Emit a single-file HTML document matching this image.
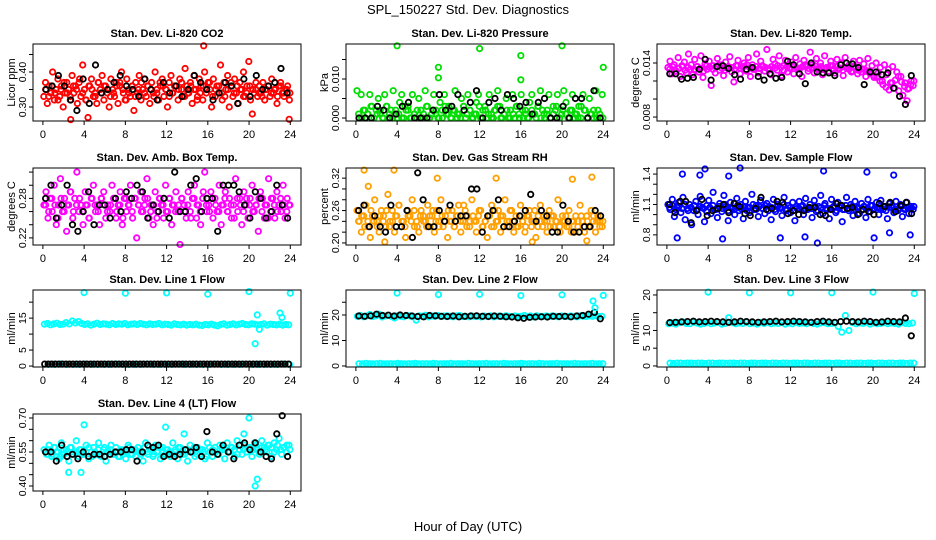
<!DOCTYPE html>
<html><head><meta charset="utf-8"><style>
html,body{margin:0;padding:0;background:#fff}
svg{display:block;font-family:"Liberation Sans",sans-serif}
</style></head><body>
<svg id="chart" width="936" height="540" viewBox="0 0 936 540" xmlns="http://www.w3.org/2000/svg">
<text x="468" y="14" text-anchor="middle" font-size="13">SPL_150227  Std. Dev. Diagnostics</text>
<text x="468" y="531" text-anchor="middle" font-size="13">Hour of Day (UTC)</text>
</svg>
<script>
const xTicks=[0,4,8,12,16,20,24];
const co2Main=[0.33,0.37,0.31,0.36,0.34,0.40,0.32,0.35,0.38,0.33,0.36,0.30,0.34,0.37,0.35,0.32,0.39,0.34,0.36,0.31,0.37,0.33,0.42,0.35,0.32,0.27,0.36,0.38,0.33,0.34,0.31,0.37,0.35,0.39,0.32,0.36,0.34,0.30,0.38,0.35,0.33,0.37,0.31,0.36,0.40,0.34,0.32,0.38,0.35,0.33,0.36,0.29,0.37,0.34,0.39,0.32,0.35,0.38,0.33,0.36,0.31,0.37,0.34,0.40,0.35,0.32,0.36,0.38,0.33,0.35,0.30,0.37,0.39,0.34,0.36,0.36,0.32,0.38,0.35,0.33,0.41,0.36,0.34,0.37,0.31,0.39,0.35,0.33,0.38,0.36,0.32,0.40,0.34,0.37,0.35,0.30,0.38,0.33,0.36,0.34,0.42,0.32,0.37,0.35,0.39,0.30,0.36,0.33,0.38,0.34,0.31,0.37,0.35,0.40,0.33,0.36,0.43,0.32,0.28,0.34,0.35,0.33,0.36,0.34,0.37,0.32,0.35,0.36,0.33,0.38,0.34,0.35,0.31,0.36,0.37,0.34,0.33,0.35,0.36,0.32];
const co2Extra=[0.35,0.33,0.36,0.34,0.32,0.35,0.37,0.34,0.33,0.36,0.35,0.38,0.34,0.32,0.36,0.35,0.33,0.37,0.34,0.36,0.35,0.33,0.34,0.36,0.37,0.35,0.32,0.34,0.36,0.33,0.35,0.37,0.34,0.36,0.35,0.33,0.34,0.37,0.36,0.35,0.33,0.34,0.36,0.35,0.37,0.33,0.34,0.36,0.35,0.32,0.34,0.36,0.35,0.37,0.33,0.35,0.36,0.34,0.33,0.35,0.37,0.34,0.36,0.35,0.33,0.34,0.36,0.35,0.37,0.34,0.33,0.35,0.36,0.34,0.35,0.33,0.36,0.34,0.35,0.34];
const co2Black=[0.35,0.36,0.39,0.36,0.32,0.29,0.38,0.31,0.42,0.34,0.35,0.37,0.39,0.36,0.35,0.33,0.38,0.35,0.32,0.37,0.34,0.36,0.33,0.35,0.39,0.37,0.35,0.32,0.34,0.37,0.36,0.31,0.38,0.33,0.39,0.35,0.36,0.37,0.41,0.34];
const co2OutHours=[15.6,2.7,23.9];
const co2OutVals=[0.475,0.264,0.265];
const presMain=[0.007,0.000,0.006,0.002,0.000,0.001,0.006,0.003,0.000,0.002,0.005,0.001,0.000,0.006,0.003,0.000,0.002,0.007,0.001,0.000,0.004,0.006,0.000,0.002,0.003,0.000,0.006,0.001,0.000,0.005,0.002,0.000,0.007,0.003,0.000,0.001,0.006,0.002,0.000,0.004,0.000,0.006,0.001,0.003,0.000,0.002,0.007,0.000,0.001,0.005,0.003,0.000,0.006,0.002,0.000,0.001,0.004,0.006,0.000,0.002,0.003,0.000,0.006,0.001,0.000,0.002,0.007,0.003,0.000,0.001,0.005,0.000,0.002,0.006,0.000,0.003,0.001,0.006,0.000,0.002,0.000,0.004,0.006,0.001,0.000,0.003,0.007,0.002,0.000,0.001,0.006,0.000,0.003,0.002,0.006,0.000,0.001,0.007,0.004,0.000,0.002,0.006,0.000,0.001,0.003,0.000,0.006,0.002,0.000,0.005,0.001,0.000,0.007,0.002,0.000,0.006];
const presExtra=[0.001,0.000,0.002,0.001,0.003,0.000,0.001,0.002,0.000,0.003,0.001,0.000,0.002,0.001,0.000,0.003,0.002,0.000,0.001,0.002,0.000,0.001,0.003,0.000,0.002,0.001,0.000,0.002,0.003,0.001,0.000,0.002,0.001,0.000,0.003,0.001,0.002,0.000,0.001,0.003,0.000,0.002,0.001,0.000,0.002,0.003,0.000,0.001,0.002,0.000,0.001,0.003,0.000,0.002,0.001,0.000,0.002,0.001,0.003,0.000,0.001,0.002,0.000,0.001,0.003,0.000,0.002,0.001,0.000,0.002,0.001,0.000,0.003,0.002,0.000,0.001,0.002,0.000,0.001,0.000];
const presBlack=[0.000,0.000,0.000,0.003,0.002,0.000,0.001,0.003,0.004,0.000,0.000,0.000,0.002,0.006,0.002,0.003,0.006,0.002,0.004,0.007,0.000,0.004,0.005,0.002,0.006,0.005,0.003,0.004,0.001,0.004,0.005,0.000,0.000,0.003,0.000,0.005,0.005,0.000,0.007,0.000];
const presOutHours=[4.0,8.0,8.0,12.0,16.0,16.0,20.0,24.0];
const presOutVals=[0.0185,0.0130,0.0103,0.0178,0.0160,0.0098,0.0185,0.0130];
const tempMain=[0.0135,0.0142,0.0128,0.0138,0.0131,0.0146,0.0125,0.0136,0.0141,0.0129,0.0150,0.0133,0.0127,0.0144,0.0136,0.0130,0.0148,0.0124,0.0139,0.0133,0.0142,0.0115,0.0137,0.0129,0.0145,0.0132,0.0138,0.0126,0.0141,0.0134,0.0147,0.0130,0.0119,0.0137,0.0143,0.0128,0.0136,0.0140,0.0131,0.0146,0.0125,0.0138,0.0133,0.0150,0.0129,0.0142,0.0136,0.0131,0.0155,0.0134,0.0127,0.0144,0.0139,0.0132,0.0148,0.0126,0.0137,0.0143,0.0130,0.0135,0.0141,0.0128,0.0146,0.0134,0.0139,0.0125,0.0143,0.0136,0.0131,0.0152,0.0138,0.0129,0.0145,0.0134,0.0140,0.0127,0.0148,0.0135,0.0131,0.0142,0.0137,0.0129,0.0144,0.0133,0.0140,0.0126,0.0146,0.0134,0.0138,0.0130,0.0142,0.0136,0.0128,0.0143,0.0133,0.0139,0.0125,0.0145,0.0131,0.0137,0.0124,0.0140,0.0129,0.0135,0.0120,0.0138,0.0127,0.0133,0.0118,0.0136,0.0112,0.0130,0.0109,0.0125,0.0104,0.0118,0.0098,0.0112,0.0120,0.0115];
const tempExtra=[0.0133,0.0136,0.0131,0.0134,0.0137,0.0132,0.0135,0.0138,0.0133,0.0136,0.0134,0.0131,0.0137,0.0135,0.0133,0.0136,0.0138,0.0134,0.0132,0.0136,0.0135,0.0133,0.0137,0.0134,0.0136,0.0138,0.0135,0.0133,0.0136,0.0134,0.0137,0.0135,0.0133,0.0136,0.0134,0.0137,0.0135,0.0132,0.0136,0.0134,0.0137,0.0135,0.0133,0.0136,0.0138,0.0134,0.0135,0.0137,0.0133,0.0136,0.0134,0.0135,0.0137,0.0133,0.0136,0.0134,0.0132,0.0135,0.0133,0.0131,0.0134,0.0132,0.0130,0.0133,0.0131,0.0128,0.0126,0.0124,0.0120,0.0116,0.0113,0.0110,0.0118,0.0121,0.0125,0.0119,0.0114,0.0111,0.0116,0.0120];
const tempBlack=[0.0128,0.0128,0.0122,0.0123,0.0124,0.0133,0.0144,0.0121,0.0136,0.0137,0.0134,0.0127,0.0122,0.0133,0.0135,0.0125,0.0121,0.0128,0.0123,0.0124,0.0142,0.0138,0.0128,0.0117,0.0140,0.0130,0.0129,0.0129,0.0126,0.0138,0.0140,0.0139,0.0135,0.0116,0.0130,0.0130,0.0127,0.0129,0.0112,0.0103,0.0094,0.0126];
const ambMain=[0.27,0.29,0.25,0.28,0.26,0.30,0.24,0.27,0.31,0.26,0.28,0.23,0.27,0.29,0.25,0.28,0.32,0.26,0.27,0.24,0.29,0.27,0.25,0.28,0.30,0.26,0.27,0.24,0.28,0.29,0.25,0.27,0.26,0.30,0.28,0.25,0.27,0.29,0.24,0.28,0.26,0.27,0.30,0.25,0.28,0.22,0.27,0.29,0.26,0.28,0.31,0.25,0.27,0.24,0.29,0.26,0.28,0.27,0.25,0.30,0.26,0.28,0.24,0.27,0.29,0.26,0.21,0.28,0.27,0.25,0.29,0.26,0.28,0.30,0.25,0.27,0.24,0.28,0.32,0.26,0.27,0.29,0.25,0.28,0.26,0.30,0.24,0.27,0.29,0.26,0.28,0.25,0.27,0.31,0.26,0.28,0.24,0.29,0.27,0.25,0.28,0.30,0.26,0.27,0.23,0.29,0.28,0.25,0.27,0.31,0.26,0.28,0.25,0.29,0.27,0.26,0.30,0.25,0.28,0.27];
const ambExtra=[0.27,0.26,0.28,0.27,0.25,0.28,0.26,0.27,0.29,0.26,0.27,0.28,0.26,0.27,0.25,0.28,0.27,0.26,0.28,0.27,0.26,0.27,0.28,0.26,0.27,0.25,0.28,0.27,0.26,0.28,0.27,0.26,0.27,0.28,0.26,0.27,0.25,0.28,0.27,0.26,0.28,0.27,0.26,0.27,0.28,0.26,0.27,0.25,0.28,0.27,0.26,0.29,0.27,0.26,0.28,0.27,0.26,0.27,0.28,0.26,0.27,0.25,0.28,0.27,0.26,0.28,0.27,0.26,0.27,0.28,0.26,0.27,0.25,0.28,0.27,0.26,0.28,0.27,0.26,0.27];
const ambBlack=[0.28,0.30,0.25,0.27,0.30,0.24,0.23,0.26,0.29,0.24,0.27,0.27,0.25,0.28,0.26,0.29,0.28,0.30,0.29,0.25,0.27,0.26,0.28,0.25,0.32,0.26,0.26,0.30,0.31,0.26,0.28,0.28,0.23,0.30,0.30,0.30,0.29,0.27,0.25,0.29,0.28,0.25,0.26,0.30,0.27,0.25];
const rhMain=[0.26,0.24,0.22,0.25,0.27,0.23,0.21,0.25,0.28,0.24,0.22,0.26,0.25,0.23,0.29,0.24,0.26,0.22,0.25,0.27,0.23,0.24,0.21,0.26,0.25,0.28,0.23,0.24,0.22,0.26,0.25,0.24,0.27,0.23,0.25,0.22,0.26,0.24,0.28,0.23,0.25,0.21,0.24,0.26,0.23,0.25,0.27,0.22,0.24,0.26,0.25,0.23,0.28,0.24,0.22,0.25,0.26,0.23,0.24,0.21,0.25,0.27,0.23,0.24,0.26,0.22,0.25,0.28,0.23,0.24,0.26,0.22,0.25,0.23,0.27,0.24,0.22,0.25,0.26,0.23,0.24,0.21,0.25,0.27,0.23,0.24,0.22,0.26,0.25,0.23,0.24,0.28,0.22,0.25,0.24,0.23,0.26,0.22,0.24,0.25,0.23,0.27,0.24,0.22,0.25,0.23,0.26,0.24,0.22,0.25,0.24,0.23];
const rhExtra=[0.24,0.25,0.23,0.24,0.26,0.24,0.23,0.25,0.24,0.26,0.23,0.24,0.25,0.27,0.24,0.23,0.25,0.24,0.26,0.23,0.25,0.24,0.23,0.25,0.26,0.24,0.23,0.25,0.24,0.26,0.24,0.23,0.25,0.24,0.27,0.23,0.24,0.25,0.24,0.26,0.23,0.24,0.25,0.23,0.26,0.24,0.25,0.23,0.24,0.26,0.24,0.23,0.25,0.24,0.23,0.25,0.24,0.26,0.23,0.24,0.25,0.24,0.23,0.25,0.24,0.23,0.24,0.25,0.23,0.24,0.22,0.24,0.25,0.23,0.24,0.23,0.25,0.24,0.23,0.24];
const rhBlack=[0.26,0.27,0.23,0.25,0.23,0.22,0.27,0.23,0.23,0.26,0.21,0.33,0.28,0.23,0.23,0.26,0.24,0.27,0.24,0.25,0.25,0.30,0.30,0.22,0.25,0.26,0.28,0.23,0.23,0.24,0.25,0.26,0.29,0.24,0.26,0.25,0.22,0.22,0.27,0.24,0.22,0.22,0.23,0.23,0.26,0.25];
const rhOutHours=[0.8,3.7,1.2,7.9,13.6,21.0,22.9,2.8,17.1,22.4];
const rhOutVals=[0.335,0.335,0.305,0.320,0.320,0.318,0.322,0.202,0.202,0.204];
const flowMain=[1.10,1.05,1.15,0.98,1.08,1.12,1.02,1.17,0.95,1.06,1.10,0.90,1.04,1.13,1.00,1.18,1.07,0.93,1.09,1.14,1.01,1.22,1.05,0.97,1.11,1.03,1.19,1.08,0.94,1.12,1.06,1.00,1.16,1.04,1.10,0.96,1.13,1.07,1.02,1.20,1.05,1.09,0.98,1.14,1.06,1.01,1.11,1.08,0.95,1.15,1.03,1.10,1.07,0.99,1.17,1.04,1.09,1.02,1.12,0.94,1.06,1.13,1.08,1.00,1.16,1.05,1.10,0.97,1.14,1.03,1.08,1.19,1.01,1.11,1.06,0.96,1.15,1.07,1.02,1.12,1.09,0.93,1.05,1.17,1.04,1.10,0.99,1.13,1.06,1.01,1.11,1.08,0.97,1.15,1.03,1.09,1.06,1.12,1.00,1.14,1.05,1.08,0.96,1.11,1.07,1.02,1.13,1.04,1.10,0.98,1.06,1.12,1.01,1.08,1.05];
const flowExtra=[1.07,1.09,1.05,1.08,1.06,1.10,1.04,1.07,1.09,1.05,1.08,1.06,1.03,1.07,1.09,1.05,1.08,1.06,1.10,1.04,1.07,1.05,1.09,1.06,1.08,1.04,1.07,1.10,1.05,1.08,1.06,1.09,1.04,1.07,1.05,1.08,1.06,1.10,1.05,1.07,1.04,1.08,1.06,1.09,1.05,1.07,1.06,1.08,1.04,1.07,1.09,1.05,1.06,1.08,1.04,1.07,1.05,1.09,1.06,1.08,1.05,1.07,1.04,1.08,1.06,1.09,1.05,1.07,1.06,1.08,1.04,1.07,1.09,1.05,1.06,1.08,1.05,1.07,1.06,1.08];
const flowBlack=[1.10,1.02,1.13,1.13,0.92,1.04,1.15,0.99,1.04,1.06,1.10,1.02,1.11,1.08,1.01,0.99,1.06,1.17,1.05,1.06,1.13,1.12,1.01,1.04,1.00,1.04,1.07,1.07,1.00,0.99,1.05,1.11,1.09,1.06,1.07,1.00,1.05,1.03,1.00,1.11,1.08,1.12,1.03,1.09,1.12,1.01];
const flowOutHours=[1.0,1.5,3.2,3.7,7.1,6.0,5.4,15.2,19.4,22.0,11.0,13.4,14.6,20.1,21.6,23.6];
const flowOutVals=[0.77,1.40,1.39,1.45,1.46,1.38,0.76,1.43,1.42,1.39,0.77,0.78,0.72,0.77,0.82,0.80];
const l1Band=[13.1,13.3,12.9,13.2,13.4,13.0,13.1,13.6,13.2,14.1,13.5,13.9,13.3,13.0,13.2,12.8,13.1,13.4,13.0,13.2,13.1,12.9,13.3,13.0,13.2,13.1,13.3,12.9,13.1,13.2,13.0,13.3,13.1,12.9,13.2,13.0,13.1,13.3,12.9,13.1,13.0,12.8,13.2,13.0,12.9,13.1,12.8,13.0,12.9,13.1,12.8,12.7,13.0,12.9,13.1,12.8,12.6,13.0,13.2,12.8,13.0,13.2,12.9,13.1,13.3,13.0,12.9,13.2,13.1,12.9,13.0,13.2,12.8,13.1,13.0,12.9,13.1,12.8,13.0,12.9];
const l1Zero=[0.5,0.5,0.6,0.5,0.5,0.5,0.6,0.5,0.5,0.5,0.5,0.6,0.5,0.5,0.5,0.5,0.6,0.5,0.5,0.5,0.5,0.6,0.5,0.5,0.5,0.5,0.5,0.6,0.5,0.5,0.5,0.5,0.6,0.5,0.5,0.5,0.5,0.5,0.6,0.5];
const l1Black=[0.6,0.6,0.6,0.6,0.6,0.6,0.6,0.6,0.6,0.6,0.6,0.6,0.6,0.6,0.6,0.6,0.6,0.6,0.6,0.6,0.6,0.6,0.6,0.6,0.6,0.6,0.6,0.6,0.6,0.6,0.6,0.6,0.6,0.6,0.6,0.6,0.6,0.6,0.6,0.6,0.6,0.6,0.6,0.6,0.6,0.6,0.6,0.6,0.6,0.6,0.6,0.6,0.6,0.6,0.6,0.6,0.6,0.6,0.6,0.6,0.6,0.6,0.6,0.6,0.6,0.6,0.6,0.6,0.6,0.6];
const l1OutHours=[4.0,8.0,12.0,16.0,20.0,24.0,20.6,20.8,21.0,23.0,23.2];
const l1OutVals=[23.0,22.8,22.9,22.5,23.3,22.8,7.0,16.0,11.5,16.6,15.2];
const l2Band=[19.5,19.8,19.3,19.6,20.2,19.4,19.7,20.3,19.2,19.6,19.9,19.4,18.8,19.7,19.5,19.3,19.8,19.6,19.4,18.0,19.7,19.5,19.9,19.3,19.6,19.5,19.8,19.4,19.6,19.7,19.5,19.3,19.6,19.8,19.4,19.5,19.3,19.6,19.4,19.5,19.2,19.6,19.4,19.7,19.3,19.5,19.6,19.4,19.7,19.5,19.3,19.6,19.4,19.5,19.8,19.3,19.6,19.2,19.7,19.4,19.5,19.6,19.4,19.7,19.5,19.3,19.6,19.5,19.4,19.6,19.5,19.3,19.7,19.5,19.4,19.6,19.5,19.7,19.4,19.5];
const l2Zero=[0.9,0.8,1.0,0.9,0.8,0.9,1.0,0.8,0.9,0.9,0.8,1.0,0.9,0.8,0.9,0.9,1.0,0.8,0.9,0.9,0.8,1.0,0.9,0.8,0.9,0.9,1.0,0.8,0.9,0.9,0.8,1.0,0.9,0.8,0.9,0.9,1.0,0.8,0.9,0.9,0.8,1.0,0.9,0.8,0.9,0.9,1.0,0.8,0.9,0.9,0.8,1.0,0.9,0.8,0.9,0.9,1.0,0.8,0.9,0.9,0.8,1.0,0.9,0.8,0.9,0.9,1.0,0.8,0.9,0.9];
const l2Black=[19.6,19.5,19.7,20.3,19.8,19.9,19.6,20.0,19.8,19.6,19.4,19.3,19.8,19.7,19.5,19.4,19.6,19.3,19.5,19.6,19.7,19.5,19.4,19.6,19.5,19.3,19.2,18.9,18.7,19.1,19.2,19.3,19.2,19.5,19.4,19.5,19.3,19.6,19.8,20.3,21.0,18.5];
const l2OutHours=[4.0,8.0,12.0,16.0,20.0,23.0,23.2,24.0];
const l2OutVals=[28.6,28.0,28.1,27.6,27.9,25.5,22.8,27.7];
const l3Band=[11.9,12.1,11.8,12.2,12.4,12.0,11.9,12.3,12.1,11.8,12.0,12.2,11.9,12.1,12.3,11.8,12.0,13.6,12.2,11.9,12.1,12.0,12.3,11.9,12.1,11.8,12.2,12.0,12.3,11.9,12.1,12.0,12.2,11.8,12.1,11.9,12.3,12.0,12.1,11.9,12.2,12.0,11.8,12.1,12.2,11.9,12.0,12.1,11.1,9.5,14.2,10.0,12.2,11.9,12.1,12.0,12.3,11.8,12.1,11.9,12.0,12.2,11.9,12.1,12.0,11.8,12.2,12.0,11.9,12.1];
const l3Zero=[0.8,0.7,0.8,0.8,0.7,0.8,0.8,0.7,0.8,0.8,0.7,0.8,0.8,0.7,0.8,0.8,0.7,0.8,0.8,0.7,0.8,0.8,0.7,0.8,0.8,0.7,0.8,0.8,0.7,0.8,0.8,0.7,0.8,0.8,0.7,0.8,0.8,0.7,0.8,0.8,0.7,0.8,0.8,0.7,0.8,0.8,0.7,0.8,0.8,0.7,0.8,0.8,0.7,0.8,0.8,0.7,0.8,0.8,0.7,0.8,0.8,0.7,0.8,0.8,0.7,0.8,0.8,0.7,0.8,0.8];
const l3Black=[12.2,12.3,12.4,12.5,12.6,12.4,12.5,12.6,12.5,12.4,12.3,12.4,12.6,12.5,12.4,12.3,12.4,12.5,12.6,12.4,12.5,12.6,12.5,12.4,12.3,12.5,12.6,12.4,12.3,12.5,12.6,12.5,12.4,12.6,12.5,12.3,12.4,12.6,12.5,12.4,13.5,8.5];
const l3OutHours=[4.0,8.0,12.0,16.0,20.0,24.0];
const l3OutVals=[20.8,20.6,20.6,20.6,20.8,20.4];
const l4Main=[0.56,0.54,0.58,0.53,0.57,0.55,0.52,0.59,0.54,0.56,0.51,0.57,0.55,0.60,0.53,0.56,0.54,0.58,0.52,0.55,0.57,0.54,0.59,0.53,0.56,0.51,0.55,0.58,0.54,0.57,0.53,0.56,0.55,0.52,0.58,0.54,0.56,0.53,0.57,0.55,0.51,0.59,0.54,0.56,0.53,0.58,0.55,0.52,0.57,0.54,0.56,0.53,0.59,0.55,0.52,0.57,0.54,0.56,0.51,0.58,0.55,0.53,0.57,0.54,0.56,0.52,0.59,0.55,0.53,0.57,0.54,0.58,0.56,0.52,0.59,0.55,0.57,0.53,0.60,0.56,0.54,0.58,0.55,0.57,0.53,0.59,0.56,0.54,0.60,0.57,0.55,0.58,0.53,0.59,0.56,0.61,0.54,0.57,0.55,0.58];
const l4Extra=[0.55,0.56,0.54,0.57,0.55,0.53,0.56,0.55,0.57,0.54,0.55,0.56,0.54,0.55,0.57,0.53,0.55,0.56,0.54,0.57,0.55,0.56,0.54,0.55,0.53,0.56,0.55,0.57,0.54,0.56,0.55,0.54,0.57,0.55,0.56,0.54,0.55,0.57,0.53,0.56,0.55,0.54,0.56,0.57,0.55,0.54,0.56,0.55,0.57,0.54,0.56,0.55,0.53,0.57,0.56,0.55,0.54,0.57,0.56,0.55,0.57,0.56,0.54,0.58,0.56,0.55,0.57,0.56,0.58,0.55,0.57,0.56,0.58,0.57,0.55,0.58,0.56,0.57,0.58,0.56];
const l4Black=[0.55,0.55,0.51,0.58,0.53,0.54,0.52,0.55,0.53,0.54,0.54,0.53,0.54,0.55,0.55,0.56,0.56,0.51,0.55,0.58,0.57,0.58,0.53,0.54,0.53,0.54,0.56,0.55,0.57,0.53,0.64,0.55,0.54,0.58,0.55,0.52,0.58,0.59,0.56,0.59,0.55,0.53,0.52,0.63,0.71,0.53];
const l4OutHours=[4.0,11.9,2.5,3.7,20.0,20.8,20.6,13.7,19.5];
const l4OutVals=[0.67,0.66,0.46,0.46,0.70,0.43,0.40,0.63,0.63];

const cols=[33,346,657], rows=[44,168,290,414], W=268, H=77;
const xDom=[-0.96,25.04];
const panels=[
 {name:'co2',title:'Stan. Dev. Li-820 CO2',ylab:'Licor ppm',c:0,r:0,dom:[0.26,0.48],ticks:[0.30,0.35,0.40,0.45],labels:{'0.3':'0.30','0.4':'0.40'},
  series:[[co2Main,'#ff0000'],[co2Extra,'#ff0000'],[co2Black,'#000000']],out:[[co2OutHours,co2OutVals,'#ff0000']]},
 {name:'pressure',title:'Stan. Dev. Li-820 Pressure',ylab:'kPa',c:1,r:0,dom:[-0.00077,0.01897],ticks:[0,0.005,0.010,0.015],labels:{'0':'0.000','0.01':'0.010'},
  series:[[presMain,'#00dd00'],[presExtra,'#00dd00'],[presBlack,'#000000']],out:[[presOutHours,presOutVals,'#00dd00']]},
 {name:'li820-temp',title:'Stan. Dev. Li-820 Temp.',ylab:'degrees C',c:2,r:0,dom:[0.00756,0.01611],ticks:[0.008,0.010,0.012,0.014],labels:{'0.008':'0.008','0.014':'0.014'},
  series:[[tempMain,'#ff00ff'],[tempExtra,'#ff00ff'],[tempBlack,'#000000']],out:[]},
 {name:'amb-box-temp',title:'Stan. Dev. Amb. Box Temp.',ylab:'degrees C',c:0,r:1,dom:[0.2092,0.3262],ticks:[0.22,0.24,0.26,0.28,0.30,0.32],labels:{'0.22':'0.22','0.28':'0.28'},
  series:[[ambMain,'#ff00ff'],[ambExtra,'#ff00ff'],[ambBlack,'#000000']],out:[]},
 {name:'gas-stream-rh',title:'Stan. Dev. Gas Stream RH',ylab:'percent',c:1,r:1,dom:[0.1962,0.3388],ticks:[0.20,0.22,0.24,0.26,0.28,0.30,0.32],labels:{'0.2':'0.20','0.26':'0.26','0.32':'0.32'},
  series:[[rhMain,'#ff9f00'],[rhExtra,'#ff9f00'],[rhBlack,'#000000']],out:[[rhOutHours,rhOutVals,'#ff9f00']]},
 {name:'sample-flow',title:'Stan. Dev. Sample Flow',ylab:'ml/min',c:2,r:1,dom:[0.70,1.46],ticks:[0.8,0.9,1.0,1.1,1.2,1.3,1.4],labels:{'0.8':'0.8','1.1':'1.1','1.4':'1.4'},
  series:[[flowMain,'#0000ff'],[flowExtra,'#0000ff'],[flowBlack,'#000000']],out:[[flowOutHours,flowOutVals,'#0000ff']]},
 {name:'line1-flow',title:'Stan. Dev. Line 1 Flow',ylab:'ml/min',c:0,r:2,dom:[-0.3,23.8],ticks:[0,5,10,15,20],labels:{'0':'0','5':'5','15':'15'},
  series:[[l1Band,'#00ffff'],[l1Zero,'#00ffff'],[l1Black,'#000000']],out:[[l1OutHours,l1OutVals,'#00ffff']]},
 {name:'line2-flow',title:'Stan. Dev. Line 2 Flow',ylab:'ml/min',c:1,r:2,dom:[-0.4,29.8],ticks:[0,10,20,25],labels:{'0':'0','10':'10','20':'20'},
  series:[[l2Band,'#00ffff'],[l2Zero,'#00ffff'],[l2Black,'#000000']],out:[[l2OutHours,l2OutVals,'#00ffff']]},
 {name:'line3-flow',title:'Stan. Dev. Line 3 Flow',ylab:'ml/min',c:2,r:2,dom:[-0.3,21.4],ticks:[0,5,10,15,20],labels:{'0':'0','5':'5','10':'10','20':'20'},
  series:[[l3Band,'#00ffff'],[l3Zero,'#00ffff'],[l3Black,'#000000']],out:[[l3OutHours,l3OutVals,'#00ffff']]},
 {name:'line4-flow',title:'Stan. Dev. Line 4 (LT) Flow',ylab:'ml/min',c:0,r:3,dom:[0.378,0.7176],ticks:[0.40,0.45,0.50,0.55,0.60,0.65,0.70],labels:{'0.4':'0.40','0.55':'0.55','0.7':'0.70'},
  series:[[l4Main,'#00ffff'],[l4Extra,'#00ffff'],[l4Black,'#000000']],out:[[l4OutHours,l4OutVals,'#00ffff']]}
];
const NS='http://www.w3.org/2000/svg';
const svg=document.getElementById('chart');
function mk(tag,attrs,parent){const e=document.createElementNS(NS,tag);for(const k in attrs)e.setAttribute(k,attrs[k]);parent.appendChild(e);return e;}
panels.forEach(p=>{
 const x0=cols[p.c], y0=rows[p.r];
 const xs=h=>x0+(h-xDom[0])/(xDom[1]-xDom[0])*W;
 const ys=v=>y0+H-(v-p.dom[0])/(p.dom[1]-p.dom[0])*H;
 const g=mk('g',{},svg);
 
 
 const t=mk('text',{x:x0+W/2,y:y0-7,'text-anchor':'middle','font-size':'11','font-weight':'bold'},g);
 
 
 t.textContent=p.title;
 const yl=mk('text',{x:0,y:0,'text-anchor':'middle','font-size':'11',transform:`translate(${x0-18},${y0+H/2}) rotate(-90)`},g);
 
 
 yl.textContent=p.ylab;
 const pts=mk('g',{fill:'none','stroke-width':'1.8'},g);
 
 
 p.series.forEach(([vals,col],si)=>{
  vals.forEach((v,i)=>{
   const h=(i+0.5+(si===1?0.37:0))*24/vals.length;
   const c=mk('circle',{cx:xs(h).toFixed(1),cy:ys(v).toFixed(1),r:'2.7',stroke:col},pts);
   
   
  });
 });
 p.out.forEach(([hrs,vals,col])=>{
  vals.forEach((v,i)=>{
   const c=mk('circle',{cx:xs(hrs[i]).toFixed(1),cy:ys(v).toFixed(1),r:'2.7',stroke:col},pts);
   
   
  });
 });
 const box=mk('rect',{x:x0,y:y0,width:W,height:H,fill:'none',stroke:'#000','stroke-width':'1'},g);
 
 
 const xa=mk('g',{},g);
 
 
 xTicks.forEach(h=>{
  const x=xs(h);
  mk('line',{x1:x,x2:x,y1:y0+H,y2:y0+H+4,stroke:'#000'},xa);
  const l=mk('text',{x:x,y:y0+H+17,'text-anchor':'middle','font-size':'11'},xa);
  l.textContent=h;
 });
 const ya=mk('g',{},g);
 
 
 p.ticks.forEach(v=>{
  const y=ys(v);
  mk('line',{x1:x0-4,x2:x0,y1:y,y2:y,stroke:'#000'},ya);
  const key=String(+v.toFixed(6));
  if(p.labels[key]!==undefined){
   const l=mk('text',{x:0,y:0,'text-anchor':'middle','font-size':'10.5',transform:`translate(${x0-7},${y}) rotate(-90)`},ya);
   l.textContent=p.labels[key];
  }
 });
});
</script>
</body></html>
